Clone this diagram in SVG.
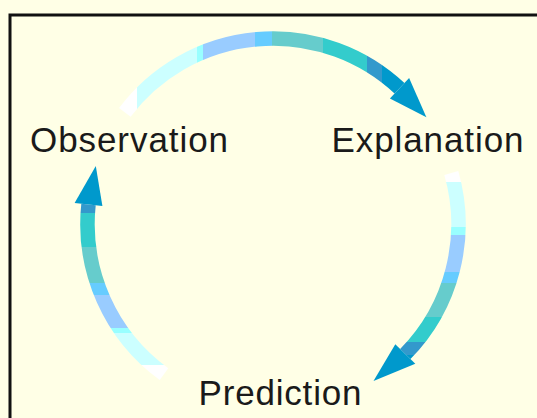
<svg xmlns="http://www.w3.org/2000/svg" width="537" height="418" viewBox="0 0 537 418">
  <style>
    .label { font-family: "Liberation Sans", Arial, sans-serif; font-size: 35px; fill: #1a1a1a; }
    .shaft { fill: none; stroke-width: 14.5; stroke-linecap: butt; }
    .head { fill: #0099CC; }
  </style>
  <defs>
    <linearGradient id="gTop" gradientUnits="userSpaceOnUse" x1="120" y1="0" x2="426" y2="0">
      <stop offset="0" stop-color="#FFFFFF"/>
      <stop offset="0.0556" stop-color="#FFFFFF"/>
      <stop offset="0.0556" stop-color="#CCFFFF"/>
      <stop offset="0.2516" stop-color="#CCFFFF"/>
      <stop offset="0.2516" stop-color="#99FFFF"/>
      <stop offset="0.2712" stop-color="#99FFFF"/>
      <stop offset="0.2712" stop-color="#99CCFF"/>
      <stop offset="0.4412" stop-color="#99CCFF"/>
      <stop offset="0.4412" stop-color="#66CCFF"/>
      <stop offset="0.4967" stop-color="#66CCFF"/>
      <stop offset="0.4967" stop-color="#66CCCC"/>
      <stop offset="0.6634" stop-color="#66CCCC"/>
      <stop offset="0.6634" stop-color="#33CCCC"/>
      <stop offset="0.8072" stop-color="#33CCCC"/>
      <stop offset="0.8072" stop-color="#3399CC"/>
      <stop offset="0.8562" stop-color="#3399CC"/>
      <stop offset="0.8562" stop-color="#0099CC"/>
      <stop offset="1" stop-color="#0099CC"/>
    </linearGradient>
    <linearGradient id="gLeft" gradientUnits="userSpaceOnUse" x1="0" y1="378" x2="0" y2="166">
      <stop offset="0" stop-color="#FFFFFF"/>
      <stop offset="0.0613" stop-color="#FFFFFF"/>
      <stop offset="0.0613" stop-color="#CCFFFF"/>
      <stop offset="0.2123" stop-color="#CCFFFF"/>
      <stop offset="0.2123" stop-color="#99FFFF"/>
      <stop offset="0.2358" stop-color="#99FFFF"/>
      <stop offset="0.2358" stop-color="#99CCFF"/>
      <stop offset="0.3915" stop-color="#99CCFF"/>
      <stop offset="0.3915" stop-color="#66CCFF"/>
      <stop offset="0.4481" stop-color="#66CCFF"/>
      <stop offset="0.4481" stop-color="#66CCCC"/>
      <stop offset="0.6179" stop-color="#66CCCC"/>
      <stop offset="0.6179" stop-color="#33CCCC"/>
      <stop offset="0.7783" stop-color="#33CCCC"/>
      <stop offset="0.7783" stop-color="#3399CC"/>
      <stop offset="1" stop-color="#3399CC"/>
    </linearGradient>
    <linearGradient id="gRight" gradientUnits="userSpaceOnUse" x1="0" y1="170" x2="0" y2="383">
      <stop offset="0" stop-color="#FFFFFF"/>
      <stop offset="0.0563" stop-color="#FFFFFF"/>
      <stop offset="0.0563" stop-color="#CCFFFF"/>
      <stop offset="0.2676" stop-color="#CCFFFF"/>
      <stop offset="0.2676" stop-color="#99FFFF"/>
      <stop offset="0.3052" stop-color="#99FFFF"/>
      <stop offset="0.3052" stop-color="#99CCFF"/>
      <stop offset="0.4789" stop-color="#99CCFF"/>
      <stop offset="0.4789" stop-color="#66CCFF"/>
      <stop offset="0.5305" stop-color="#66CCFF"/>
      <stop offset="0.5305" stop-color="#66CCCC"/>
      <stop offset="0.6901" stop-color="#66CCCC"/>
      <stop offset="0.6901" stop-color="#33CCCC"/>
      <stop offset="0.8075" stop-color="#33CCCC"/>
      <stop offset="0.8075" stop-color="#3399CC"/>
      <stop offset="0.8685" stop-color="#3399CC"/>
      <stop offset="0.8685" stop-color="#0099CC"/>
      <stop offset="1" stop-color="#0099CC"/>
    </linearGradient>
  </defs>

  <rect x="0" y="0" width="537" height="418" fill="#FFFFE6"/>
  <rect x="10" y="15" width="560" height="440" fill="#FFFFE6" stroke="#111" stroke-width="3"/>

  <g id="connectors">
    <g id="obs-to-exp">
      <path class="shaft" stroke="url(#gTop)" d="M124.85,112.36 A185.5,185.5 0 0 1 399.5,88.3"/>
      <polygon class="head" points="409.1,78.0 426.4,117.3 389.9,98.6"/>
    </g>
    <g id="exp-to-pred">
      <path class="shaft" stroke="url(#gRight)" d="M451.3,172.9 A185.5,185.5 0 0 1 405.3,354.0"/>
      <polygon class="head" points="415.3,363.8 373.5,381.0 395.3,344.2"/>
    </g>
    <g id="pred-to-obs">
      <path class="shaft" stroke="url(#gLeft)" d="M164.0,374.1 A185.5,185.5 0 0 1 88.5,204.6"/>
      <polygon class="head" points="74.6,203.1 95.8,166.0 102.4,206.1"/>
    </g>
  </g>

  <g id="observation">
    <text class="label" x="30" y="151.5" textLength="198" lengthAdjust="spacing">Observation</text>
  </g>
  <g id="explanation">
    <text class="label" x="331.5" y="151.5" textLength="192" lengthAdjust="spacing">Explanation</text>
  </g>
  <g id="prediction">
    <text class="label" x="198.5" y="405" textLength="163" lengthAdjust="spacing">Prediction</text>
  </g>
</svg>
